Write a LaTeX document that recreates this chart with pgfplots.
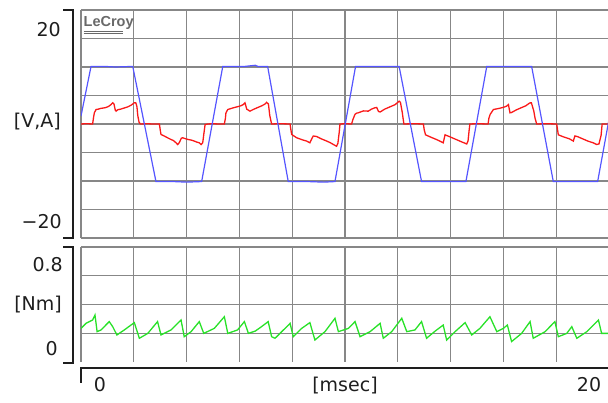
\documentclass[border=0pt]{standalone}
\usepackage{fontspec}
\setmainfont{DejaVu Sans}
\newfontfamily\lcfont{Liberation Sans}
\usepackage{pgfplots}
\pgfplotsset{compat=1.18}
\definecolor{gridc}{RGB}{135,135,135}
\definecolor{tblue}{RGB}{85,85,255}
\definecolor{tred}{RGB}{250,25,25}
\definecolor{tgreen}{RGB}{40,225,40}
\definecolor{txt}{RGB}{30,30,30}
\definecolor{logo}{RGB}{105,105,105}

\pgfplotstableread{
t v
0 1.4
0.38 10.1
0.9 10.1
1.3 10.0
1.96 10.1
2.84 -10.1
3.5 -10.1
4.0 -10.2
4.57 -10.1
5.37 10.1
6.2 10.1
6.6 10.3
6.7 10.1
7.07 10.1
7.85 -10.1
8.6 -10.1
9.2 -10.2
9.62 -10.1
10.4 10.1
11.2 10.1
12.05 10.1
12.9 -10.1
13.6 -10.1
14.58 -10.1
15.37 10.1
16.2 10.1
17.07 10.1
17.89 -10.1
18.7 -10.1
19.57 -10.1
20.0 0.8
}\blue

\pgfplotstableread{
t v
0 0
0.2 0.05
0.44 0
0.47 1.0
0.505 1.96
0.57 2.54
0.65 2.6
0.76 2.75
0.85 2.8
0.95 2.9
1.05 3.1
1.14 3.42
1.2 3.72
1.25 3.5
1.3 2.4
1.33 2.25
1.39 2.5
1.5 2.6
1.6 2.75
1.77 3.0
1.9 3.3
2.02 3.72
2.08 3.7
2.12 3.0
2.15 1.5
2.2 0.3
2.25 0
2.5 0.05
2.7 0
2.97 0
3.0 -1.0
3.03 -1.84
3.15 -2.1
3.28 -2.42
3.4 -2.7
3.5 -2.9
3.6 -3.3
3.66 -3.6
3.72 -3.3
3.8 -2.5
3.85 -2.42
4.04 -2.7
4.2 -2.85
4.29 -3.0
4.4 -3.2
4.48 -3.3
4.55 -3.6
4.61 -3.3
4.66 -1.5
4.70 -0.1
4.8 0
5.0 0.05
5.2 0
5.43 0
5.47 1.0
5.49 1.96
5.56 2.54
5.77 2.84
5.9 3.0
6.06 3.2
6.15 3.42
6.21 3.72
6.28 2.6
6.4 2.25
6.55 2.6
6.7 2.9
6.85 3.2
6.97 3.5
7.03 3.8
7.1 3.5
7.15 1.5
7.22 0
7.5 0.05
7.92 0
7.95 -1.0
7.98 -1.84
8.17 -2.42
8.4 -2.8
8.55 -3.0
8.67 -3.3
8.75 -2.5
8.8 -2.1
8.93 -2.2
9.1 -2.6
9.31 -3.0
9.45 -3.3
9.56 -3.6
9.68 -3.9
9.73 -3.4
9.78 -1.5
9.81 0
10.0 0.05
10.25 0
10.3 0.8
10.38 1.7
10.44 1.9
10.5 1.96
10.7 2.3
10.88 2.25
11.0 2.6
11.13 2.84
11.2 2.9
11.27 2.2
11.33 2.1
11.5 2.6
11.7 3.0
11.9 3.4
12.05 4.0
12.1 3.8
12.17 2.0
12.23 0
12.6 0.05
12.97 0
13.0 -1.0
13.05 -1.9
13.22 -2.25
13.4 -2.6
13.55 -2.9
13.72 -3.3
13.76 -2.5
13.79 -1.9
13.95 -2.2
14.2 -2.7
14.4 -3.1
14.61 -3.5
14.66 -3.0
14.7 -1.2
14.73 0
15.0 0.05
15.42 0
15.45 1.0
15.5 1.7
15.62 2.54
15.8 2.7
15.93 2.84
16.05 3.0
16.12 3.13
16.19 3.4
16.25 1.96
16.3 2.0
16.5 2.5
16.7 2.9
16.85 3.2
17.0 3.7
17.06 3.72
17.15 2.3
17.2 1.0
17.26 0
17.6 0.05
18.02 0
18.05 -1.0
18.08 -1.9
18.3 -2.3
18.5 -2.6
18.65 -3.0
18.68 -2.5
18.71 -2.1
18.8 -2.2
19.0 -2.6
19.2 -3.0
19.4 -3.3
19.53 -3.6
19.62 -3.5
19.7 -2.0
19.74 0
20.0 0
}\red

\pgfplotstableread{
t v
0 0.234
0.19 0.269
0.44 0.292
0.53 0.327
0.61 0.211
0.76 0.223
1.07 0.281
1.20 0.246
1.36 0.188
1.64 0.223
2.02 0.274
2.21 0.165
2.53 0.199
2.90 0.281
3.03 0.188
3.41 0.223
3.79 0.292
3.91 0.176
4.17 0.211
4.48 0.281
4.65 0.199
5.05 0.234
5.43 0.315
5.56 0.199
5.93 0.223
6.19 0.281
6.34 0.199
6.6 0.215
6.84 0.246
7.09 0.281
7.22 0.176
7.35 0.165
7.73 0.234
7.92 0.269
8.04 0.176
8.36 0.234
8.67 0.274
8.86 0.153
9.24 0.211
9.62 0.304
9.75 0.211
10.13 0.234
10.38 0.281
10.57 0.176
10.95 0.211
11.33 0.269
11.45 0.165
11.77 0.211
12.15 0.304
12.34 0.211
12.65 0.223
12.90 0.281
13.09 0.165
13.25 0.19
13.45 0.22
13.72 0.257
13.85 0.153
14.17 0.211
14.55 0.274
14.8 0.188
15.11 0.234
15.49 0.315
15.75 0.211
16.0 0.234
16.15 0.257
16.31 0.142
16.69 0.199
17.01 0.281
17.13 0.165
17.58 0.211
17.95 0.281
18.08 0.176
18.4 0.199
18.59 0.246
18.78 0.165
19.16 0.211
19.6 0.292
19.72 0.199
20.0 0.199
}\green

\begin{document}
\begin{tikzpicture}
\useasboundingbox (0pt,0pt) rectangle (608pt,403pt);
\begin{axis}[
  at={(81pt,165pt)}, anchor=south west, scale only axis,
  width=528pt, height=228pt,
  xmin=0, xmax=20, ymin=-20, ymax=20,
  xtick={0,2,...,20}, ytick={-20,-15,...,20},
  xticklabels={}, yticklabels={},
  major tick length=0pt,
  grid=major, major grid style={gridc, line width=1.2pt},
  axis line style={draw=none},
]
\addplot[tred, line width=1.3pt] table[x=t,y=v] {\red};
\addplot[tblue, line width=1.2pt] table[x=t,y=v] {\blue};
\end{axis}
\begin{axis}[
  at={(81pt,41pt)}, anchor=south west, scale only axis,
  width=528pt, height=115pt,
  xmin=0, xmax=20, ymin=0, ymax=0.8,
  xtick={0,2,...,20}, ytick={0.2,0.4,0.6,0.8},
  xticklabels={}, yticklabels={},
  major tick length=0pt,
  grid=major, major grid style={gridc, line width=1.2pt},
  axis line style={draw=none},
]
\addplot[tgreen, line width=1.3pt] table[x=t,y=v] {\green};
\end{axis}
\begin{scope}[x=1pt,y=1pt]
% brackets
\draw[txt, line width=2pt] (63,393) -- (73,393) -- (73,165) -- (63,165);
\draw[txt, line width=2pt] (63,156) -- (73,156) -- (73,40) -- (63,40);
\draw[txt, line width=2pt] (81,20) -- (81,35) -- (612,35);
% labels
\begin{scope}[every node/.style={text=txt, font=\fontsize{19}{22}\selectfont, inner sep=0pt}]
\node[anchor=east] at (61,373) {20};
\node[anchor=east] at (61,281) {[V,A]};
\node[anchor=east] at (62,181) {−20};
\node[anchor=east] at (63,138) {0.8};
\node[anchor=east] at (62,98) {[Nm]};
\node[anchor=east] at (58,54) {0};
\node at (100,18) {0};
\node at (589,18) {20};
\node at (345,17) {[msec]};
\end{scope}
% logo
\node[anchor=base west, inner sep=0pt, text=logo] at (83.5,376.5) {\lcfont\bfseries\fontsize{14.5}{14.5}\selectfont LeCroy};
\draw[logo, line width=1.3pt] (83.5,371.5) -- (123,371.5);
\draw[logo, line width=1.3pt] (83.5,369.3) -- (123,369.3);
\end{scope}
\end{tikzpicture}
\end{document}
